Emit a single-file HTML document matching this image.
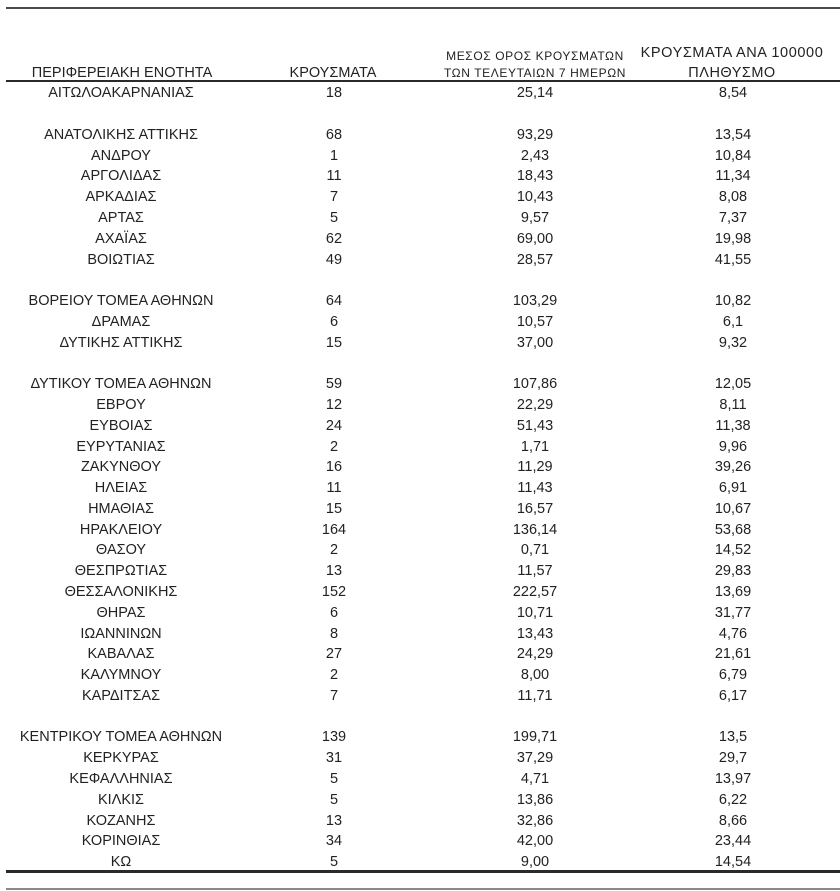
<!DOCTYPE html>
<html>
<head>
<meta charset="utf-8">
<style>
html,body{margin:0;padding:0;background:#fff;}
body{width:840px;height:891px;position:relative;overflow:hidden;font-family:"Liberation Sans","DejaVu Sans",sans-serif;color:#222;}
.ln{position:absolute;left:6px;right:0;}
.h{position:absolute;text-align:center;white-space:nowrap;font-size:14.5px;line-height:18px;}
.row{position:absolute;left:0;width:840px;height:20.78px;line-height:20.78px;font-size:14.5px;white-space:nowrap;}
.row span{position:absolute;top:0;text-align:center;}
.c1{left:0;width:242px;}
.c2{left:254px;width:160px;}
.c3{left:455px;width:160px;}
.c4{left:633px;width:200px;}
#rows{position:absolute;left:0;top:2px;width:840px;height:880px;}
</style>
</head>
<body>
<div class="ln" style="top:7px;height:2px;background:#4a4a4a;"></div>
<div class="ln" style="top:79.5px;height:2px;background:#2a2a2a;"></div>
<div class="ln" style="top:870px;height:3px;background:#2a2a2a;"></div>
<div class="ln" style="top:888px;height:2px;background:#8a8a8a;"></div>

<div class="h" style="left:0;width:244px;top:63.5px;">ΠΕΡΙΦΕΡΕΙΑΚΗ ΕΝΟΤΗΤΑ</div>
<div class="h" style="left:253px;width:160px;top:63.5px;">ΚΡΟΥΣΜΑΤΑ</div>
<div class="h" style="left:435px;width:200px;top:47px;font-size:12px;letter-spacing:0.6px;">ΜΕΣΟΣ ΟΡΟΣ ΚΡΟΥΣΜΑΤΩΝ</div>
<div class="h" style="left:435px;width:200px;top:64px;font-size:12px;letter-spacing:0.6px;">ΤΩΝ ΤΕΛΕΥΤΑΙΩΝ 7 ΗΜΕΡΩΝ</div>
<div class="h" style="left:632px;width:200px;top:43.5px;letter-spacing:0.6px;">ΚΡΟΥΣΜΑΤΑ ΑΝΑ 100000</div>
<div class="h" style="left:632px;width:200px;top:63.5px;letter-spacing:0.5px;">ΠΛΗΘΥΣΜΟ</div>

<div id="rows">
<div class="row" style="top:81.3px"><span class="c1">ΑΙΤΩΛΟΑΚΑΡΝΑΝΙΑΣ</span><span class="c2">18</span><span class="c3">25,14</span><span class="c4">8,54</span></div>
<div class="row" style="top:122.86px"><span class="c1">ΑΝΑΤΟΛΙΚΗΣ ΑΤΤΙΚΗΣ</span><span class="c2">68</span><span class="c3">93,29</span><span class="c4">13,54</span></div>
<div class="row" style="top:143.64px"><span class="c1">ΑΝΔΡΟΥ</span><span class="c2">1</span><span class="c3">2,43</span><span class="c4">10,84</span></div>
<div class="row" style="top:164.42px"><span class="c1">ΑΡΓΟΛΙΔΑΣ</span><span class="c2">11</span><span class="c3">18,43</span><span class="c4">11,34</span></div>
<div class="row" style="top:185.2px"><span class="c1">ΑΡΚΑΔΙΑΣ</span><span class="c2">7</span><span class="c3">10,43</span><span class="c4">8,08</span></div>
<div class="row" style="top:205.98px"><span class="c1">ΑΡΤΑΣ</span><span class="c2">5</span><span class="c3">9,57</span><span class="c4">7,37</span></div>
<div class="row" style="top:226.76px"><span class="c1">ΑΧΑΪΑΣ</span><span class="c2">62</span><span class="c3">69,00</span><span class="c4">19,98</span></div>
<div class="row" style="top:247.54px"><span class="c1">ΒΟΙΩΤΙΑΣ</span><span class="c2">49</span><span class="c3">28,57</span><span class="c4">41,55</span></div>
<div class="row" style="top:289.1px"><span class="c1">ΒΟΡΕΙΟΥ ΤΟΜΕΑ ΑΘΗΝΩΝ</span><span class="c2">64</span><span class="c3">103,29</span><span class="c4">10,82</span></div>
<div class="row" style="top:309.88px"><span class="c1">ΔΡΑΜΑΣ</span><span class="c2">6</span><span class="c3">10,57</span><span class="c4">6,1</span></div>
<div class="row" style="top:330.66px"><span class="c1">ΔΥΤΙΚΗΣ ΑΤΤΙΚΗΣ</span><span class="c2">15</span><span class="c3">37,00</span><span class="c4">9,32</span></div>
<div class="row" style="top:372.22px"><span class="c1">ΔΥΤΙΚΟΥ ΤΟΜΕΑ ΑΘΗΝΩΝ</span><span class="c2">59</span><span class="c3">107,86</span><span class="c4">12,05</span></div>
<div class="row" style="top:393px"><span class="c1">ΕΒΡΟΥ</span><span class="c2">12</span><span class="c3">22,29</span><span class="c4">8,11</span></div>
<div class="row" style="top:413.78px"><span class="c1">ΕΥΒΟΙΑΣ</span><span class="c2">24</span><span class="c3">51,43</span><span class="c4">11,38</span></div>
<div class="row" style="top:434.56px"><span class="c1">ΕΥΡΥΤΑΝΙΑΣ</span><span class="c2">2</span><span class="c3">1,71</span><span class="c4">9,96</span></div>
<div class="row" style="top:455.34px"><span class="c1">ΖΑΚΥΝΘΟΥ</span><span class="c2">16</span><span class="c3">11,29</span><span class="c4">39,26</span></div>
<div class="row" style="top:476.12px"><span class="c1">ΗΛΕΙΑΣ</span><span class="c2">11</span><span class="c3">11,43</span><span class="c4">6,91</span></div>
<div class="row" style="top:496.9px"><span class="c1">ΗΜΑΘΙΑΣ</span><span class="c2">15</span><span class="c3">16,57</span><span class="c4">10,67</span></div>
<div class="row" style="top:517.68px"><span class="c1">ΗΡΑΚΛΕΙΟΥ</span><span class="c2">164</span><span class="c3">136,14</span><span class="c4">53,68</span></div>
<div class="row" style="top:538.46px"><span class="c1">ΘΑΣΟΥ</span><span class="c2">2</span><span class="c3">0,71</span><span class="c4">14,52</span></div>
<div class="row" style="top:559.24px"><span class="c1">ΘΕΣΠΡΩΤΙΑΣ</span><span class="c2">13</span><span class="c3">11,57</span><span class="c4">29,83</span></div>
<div class="row" style="top:580.02px"><span class="c1">ΘΕΣΣΑΛΟΝΙΚΗΣ</span><span class="c2">152</span><span class="c3">222,57</span><span class="c4">13,69</span></div>
<div class="row" style="top:600.8px"><span class="c1">ΘΗΡΑΣ</span><span class="c2">6</span><span class="c3">10,71</span><span class="c4">31,77</span></div>
<div class="row" style="top:621.58px"><span class="c1">ΙΩΑΝΝΙΝΩΝ</span><span class="c2">8</span><span class="c3">13,43</span><span class="c4">4,76</span></div>
<div class="row" style="top:642.36px"><span class="c1">ΚΑΒΑΛΑΣ</span><span class="c2">27</span><span class="c3">24,29</span><span class="c4">21,61</span></div>
<div class="row" style="top:663.14px"><span class="c1">ΚΑΛΥΜΝΟΥ</span><span class="c2">2</span><span class="c3">8,00</span><span class="c4">6,79</span></div>
<div class="row" style="top:683.92px"><span class="c1">ΚΑΡΔΙΤΣΑΣ</span><span class="c2">7</span><span class="c3">11,71</span><span class="c4">6,17</span></div>
<div class="row" style="top:725.48px"><span class="c1">ΚΕΝΤΡΙΚΟΥ ΤΟΜΕΑ ΑΘΗΝΩΝ</span><span class="c2">139</span><span class="c3">199,71</span><span class="c4">13,5</span></div>
<div class="row" style="top:746.26px"><span class="c1">ΚΕΡΚΥΡΑΣ</span><span class="c2">31</span><span class="c3">37,29</span><span class="c4">29,7</span></div>
<div class="row" style="top:767.04px"><span class="c1">ΚΕΦΑΛΛΗΝΙΑΣ</span><span class="c2">5</span><span class="c3">4,71</span><span class="c4">13,97</span></div>
<div class="row" style="top:787.82px"><span class="c1">ΚΙΛΚΙΣ</span><span class="c2">5</span><span class="c3">13,86</span><span class="c4">6,22</span></div>
<div class="row" style="top:808.6px"><span class="c1">ΚΟΖΑΝΗΣ</span><span class="c2">13</span><span class="c3">32,86</span><span class="c4">8,66</span></div>
<div class="row" style="top:829.38px"><span class="c1">ΚΟΡΙΝΘΙΑΣ</span><span class="c2">34</span><span class="c3">42,00</span><span class="c4">23,44</span></div>
<div class="row" style="top:850.16px"><span class="c1">ΚΩ</span><span class="c2">5</span><span class="c3">9,00</span><span class="c4">14,54</span></div>
</div>
</body>
</html>
